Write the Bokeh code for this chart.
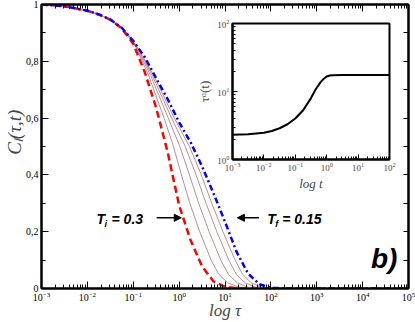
import numpy as np
from bokeh.plotting import figure
from bokeh.layouts import column
from bokeh.models import (Range1d, FixedTicker, LogTickFormatter, CustomJSTickFormatter,
                          LinearAxis, LogAxis, Label, Arrow, NormalHead)
from bokeh.embed import file_html
from bokeh.resources import INLINE

# ---------------- data ----------------
# initial temperature curve T_i = 0.3 (red dashed)
log_tau_red = [-3, -2.5, -2, -1.75, -1.5, -1.25, -1.0, -0.75, -0.5, -0.25, 0.0, 0.25, 0.5, 0.75, 1.0, 1.25, 1.5, 5]
C_red = [1.0, 0.994, 0.978, 0.965, 0.947, 0.916, 0.862, 0.762, 0.636, 0.48, 0.293, 0.17, 0.078, 0.025, 0.006, 0.001, 0.0, 0.0]

# final temperature curve T_f = 0.15 (blue dash-dot)
log_tau_blue = [-3, -2.5, -2, -1.75, -1.5, -1.25, -1.0, -0.75, -0.5, -0.25, 0.0, 0.25, 0.5, 0.75, 1.0, 1.25, 1.5, 1.75, 2.0, 2.5, 5]
C_blue = [1.0, 0.994, 0.978, 0.965, 0.947, 0.918, 0.872, 0.815, 0.74, 0.667, 0.585, 0.515, 0.43, 0.335, 0.235, 0.13, 0.053, 0.015, 0.002, 0.0, 0.0]

# intermediate waiting times (thin brown lines), log tau at given C levels
C_levels = [1.0, 0.994, 0.978, 0.965, 0.947, 0.917, 0.9, 0.85, 0.75, 0.6, 0.5, 0.4, 0.3, 0.2, 0.1, 0.05, 0.02, 0.005, 0.0, 0.0]
log_tau_b1 = [-3, -2.5, -2, -1.75, -1.5, -1.25, -1.16, -0.94, -0.665, -0.327, -0.123, 0.05, 0.234, 0.448, 0.697, 0.864, 1.061, 1.297, 1.66, 5]
log_tau_b2 = [-3, -2.5, -2, -1.75, -1.5, -1.25, -1.15, -0.93, -0.62, -0.237, 0.017, 0.225, 0.427, 0.653, 0.908, 1.073, 1.268, 1.492, 1.87, 5]
log_tau_b3 = [-3, -2.5, -2, -1.75, -1.5, -1.25, -1.14, -0.92, -0.585, -0.163, 0.133, 0.37, 0.586, 0.822, 1.083, 1.246, 1.439, 1.654, 2.04, 5]
log_tau_b4 = [-3, -2.5, -2, -1.75, -1.5, -1.25, -1.14, -0.91, -0.555, -0.105, 0.225, 0.484, 0.712, 0.955, 1.221, 1.383, 1.574, 1.781, 2.17, 5]
brown_series = [log_tau_b1, log_tau_b2, log_tau_b3, log_tau_b4]

# inset: tau_alpha(t)
log_t_inset = [-3, -2.5, -2, -1.75, -1.5, -1.25, -1.0, -0.75, -0.5, -0.35, -0.2, -0.1, 0.0, 0.1, 0.2, 0.5, 1.0, 2.0]
tau_alpha = [2.32, 2.35, 2.48, 2.62, 2.88, 3.3, 4.0, 5.3, 8.0, 10.8, 13.6, 15.3, 16.6, 17.2, 17.4, 17.5, 17.5, 17.5]

# ticks
y_major = [0, 0.2, 0.4, 0.6, 0.8, 1.0]
y_minor = [0.1, 0.3, 0.5, 0.7, 0.9]
y_right = [0.1, 0.2, 0.3, 0.4, 0.5, 0.6, 0.7, 0.8, 0.9]
x_decades = list(range(-3, 6))
inset_x_decades = list(range(-3, 3))
inset_y_decades = [0, 1, 2]

def majors(decs):
    return [10.0 ** e for e in decs]

def minors(decs):
    return [m * 10.0 ** e for e in decs[:-1] for m in range(2, 10)]

SERIF = "Liberation Serif"
SANS = "Liberation Sans"
NBSP = "\u00a0"

# ---------------- main figure ----------------
p = figure(width=415, height=322, x_axis_type="log",
           x_range=Range1d(1e-3, 1e5), y_range=Range1d(0, 1),
           output_backend="svg", toolbar_location=None,
           min_border_left=37, min_border_right=7, min_border_top=4, min_border_bottom=34)
p.grid.visible = False
p.outline_line_color = "black"
p.outline_line_width = 2
p.background_fill_color = "white"
p.border_fill_color = "white"

for s in brown_series:
    p.line(np.power(10.0, s), C_levels, line_color="#bc8f8f", line_width=1)
p.line(np.power(10.0, log_tau_red), C_red, line_color="#ff0000", line_width=2.5, line_dash="7 4")
p.line(np.power(10.0, log_tau_blue), C_blue, line_color="#0000ff", line_width=2.5, line_dash="6 3 2 3")

xa = p.xaxis[0]
xa.ticker = FixedTicker(ticks=majors(x_decades), minor_ticks=minors(x_decades))
xa.formatter = LogTickFormatter()
xa.axis_label = "log τ"
xa.axis_label_standoff = -3
ya = p.yaxis[0]
ya.ticker = FixedTicker(ticks=y_major, minor_ticks=y_minor)
ya.formatter = CustomJSTickFormatter(code="""
if (Math.abs(tick) < 1e-9) return "0";
if (Math.abs(tick - 1) < 1e-9) return "1";
return tick.toFixed(1).replace(".", ",");
""")
ya.axis_label = NBSP * 6 + "Cₗ(τ,t)"
ya.axis_label_standoff = -2
for ax in (xa, ya):
    ax.axis_line_width = 2
    ax.major_tick_in = 7
    ax.major_tick_out = 0
    ax.minor_tick_in = 4
    ax.minor_tick_out = 0
    ax.major_tick_line_width = 1
    ax.major_label_standoff = 3
    ax.major_label_text_font = SERIF
    ax.major_label_text_font_size = "10px"
    ax.major_label_text_color = "black"
    ax.axis_label_text_font = SERIF
    ax.axis_label_text_font_style = "italic"
    ax.axis_label_text_font_size = "17px"
ya.axis_label_text_font_size = "19px"

blank = CustomJSTickFormatter(code="return '';")
top_ax = LogAxis(ticker=FixedTicker(ticks=majors(x_decades), minor_ticks=minors(x_decades)),
                 formatter=blank, major_label_text_font_size="0px", major_label_standoff=0,
                 axis_line_width=2, major_tick_in=7, major_tick_out=0, minor_tick_in=4, minor_tick_out=0)
p.add_layout(top_ax, "above")
right_ax = LinearAxis(ticker=FixedTicker(ticks=y_right, minor_ticks=[]),
                      formatter=blank, major_label_text_font_size="0px", major_label_standoff=0,
                      axis_line_width=2, major_tick_in=5, major_tick_out=0, minor_tick_in=0, minor_tick_out=0)
p.add_layout(right_ax, "right")

# annotations
arrow_head = dict(size=7, fill_color="black", line_color="black")
p.add_layout(Arrow(end=NormalHead(**arrow_head), x_start=10 ** -0.49, y_start=0.249,
                   x_end=10 ** 0.047, y_end=0.249, line_width=1.5, line_color="black"))
p.add_layout(Arrow(end=NormalHead(**arrow_head), x_start=10 ** 1.74, y_start=0.249,
                   x_end=10 ** 1.27, y_end=0.249, line_width=1.5, line_color="black"))

lab = dict(text_font=SANS, text_font_style="bold italic", text_baseline="middle", text_color="black")
p.add_layout(Label(x=10 ** -1.80, y=0.245, text="T", text_font_size="14px", **lab))
p.add_layout(Label(x=10 ** -1.80, y=0.245, x_offset=8, y_offset=-5, text="i", text_font_size="9px", **lab))
p.add_layout(Label(x=10 ** -1.80, y=0.245, x_offset=15, text="= 0.3", text_font_size="14px", **lab))
p.add_layout(Label(x=10 ** 1.92, y=0.245, text="T", text_font_size="14px", **lab))
p.add_layout(Label(x=10 ** 1.92, y=0.245, x_offset=8, y_offset=-5, text="f", text_font_size="9px", **lab))
p.add_layout(Label(x=10 ** 1.92, y=0.245, x_offset=15, text="= 0.15", text_font_size="14px", **lab))
p.add_layout(Label(x=10 ** 4.18, y=0.106, text="b)", text_font_size="28px", **lab))

# ---------------- inset ----------------
q = figure(width=205, height=175, x_axis_type="log", y_axis_type="log",
           x_range=Range1d(1e-3, 1e2), y_range=Range1d(1, 100),
           output_backend="svg", toolbar_location=None,
           min_border_left=33, min_border_right=4, min_border_top=5, min_border_bottom=32)
q.grid.visible = False
q.outline_line_color = "black"
q.outline_line_width = 2
q.background_fill_color = "white"
q.border_fill_color = None
q.line(np.power(10.0, log_t_inset), tau_alpha, line_color="black", line_width=2)

qx = q.xaxis[0]
qx.ticker = FixedTicker(ticks=majors(inset_x_decades), minor_ticks=minors(inset_x_decades))
qx.formatter = LogTickFormatter()
qx.axis_label = "log t"
qy = q.yaxis[0]
qy.ticker = FixedTicker(ticks=majors(inset_y_decades), minor_ticks=minors(inset_y_decades))
qy.formatter = LogTickFormatter()
qy.axis_label = "τᵅ(t)"
for ax in (qx, qy):
    ax.axis_line_width = 2
    ax.major_tick_in = 5
    ax.major_tick_out = 0
    ax.minor_tick_in = 3
    ax.minor_tick_out = 0
    ax.major_label_standoff = 3
    ax.major_label_text_font = SERIF
    ax.major_label_text_font_size = "9px"
    ax.axis_label_text_font = SERIF
    ax.axis_label_text_font_size = "13px"
    ax.axis_label_standoff = 2
qx.axis_label_text_font_style = "italic"
qy.axis_label_text_font_style = "normal"

q.styles = {"position": "absolute", "left": "191px", "top": "18px"}
root = column(p, q)
root.styles = {"position": "relative"}

open("out.html", "w").write(file_html(root, INLINE))
